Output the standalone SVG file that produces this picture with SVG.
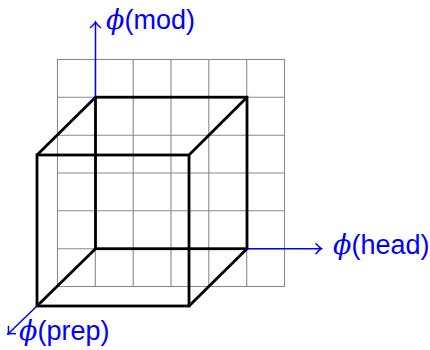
<svg xmlns="http://www.w3.org/2000/svg" width="430" height="350" viewBox="0 0 430 350">
<style>
.grid{stroke:#8a8a8a;stroke-width:1.1;fill:none}
.cube{stroke:#000;stroke-width:2.8;fill:none;stroke-linejoin:miter}
.axis{stroke:#0000ff;stroke-width:1.5;fill:none}
.lbl{font-family:"Liberation Sans","DejaVu Sans",sans-serif;font-size:27px;fill:#0000ff}
.phi{font-family:"DejaVu Serif","Liberation Serif",serif;font-style:italic}
</style>
<defs>
<marker id="arr" markerUnits="userSpaceOnUse" markerWidth="14" markerHeight="14" viewBox="-8 -7 10 14" refX="0" refY="0" orient="auto">
<path d="M-5.5,-5 Q-2,-1 0,0 Q-2,1 -5.5,5" stroke="#0000ff" stroke-width="1.5" fill="none" stroke-linecap="round"/>
</marker>
</defs>
<g id="grid" class="grid">
<rect x="57.5" y="59.5" width="227" height="227"/>
<path d="M95.3,59.5V286.5M133.2,59.5V286.5M171,59.5V286.5M208.8,59.5V286.5M246.7,59.5V286.5M57.5,97.3H284.5M57.5,135.2H284.5M57.5,173H284.5M57.5,210.8H284.5M57.5,248.7H284.5"/>
</g>
<g id="cube" class="cube">
<rect id="back" x="95.5" y="97.2" width="151.5" height="151.5"/>
<rect id="front" x="37" y="155" width="152" height="151"/>
<path d="M95.5,97.2L37,155M247,97.2L189,155M247,248.7L189,306M95.5,248.7L37,306"/>
</g>
<g id="connectors" class="axis">
<line x1="95.5" y1="97.2" x2="95.5" y2="22" marker-end="url(#arr)"/>
<line x1="247" y1="248.7" x2="321.5" y2="248.7" marker-end="url(#arr)"/>
<line x1="37" y1="306" x2="8" y2="334" marker-end="url(#arr)"/>
</g>
<g id="label-mod"><text class="lbl" x="106" y="29"><tspan class="phi">ϕ</tspan>(mod)</text></g>
<g id="label-head"><text class="lbl" x="333" y="254"><tspan class="phi">ϕ</tspan>(head)</text></g>
<g id="label-prep"><text class="lbl" x="19" y="340"><tspan class="phi">ϕ</tspan>(prep)</text></g>
</svg>
